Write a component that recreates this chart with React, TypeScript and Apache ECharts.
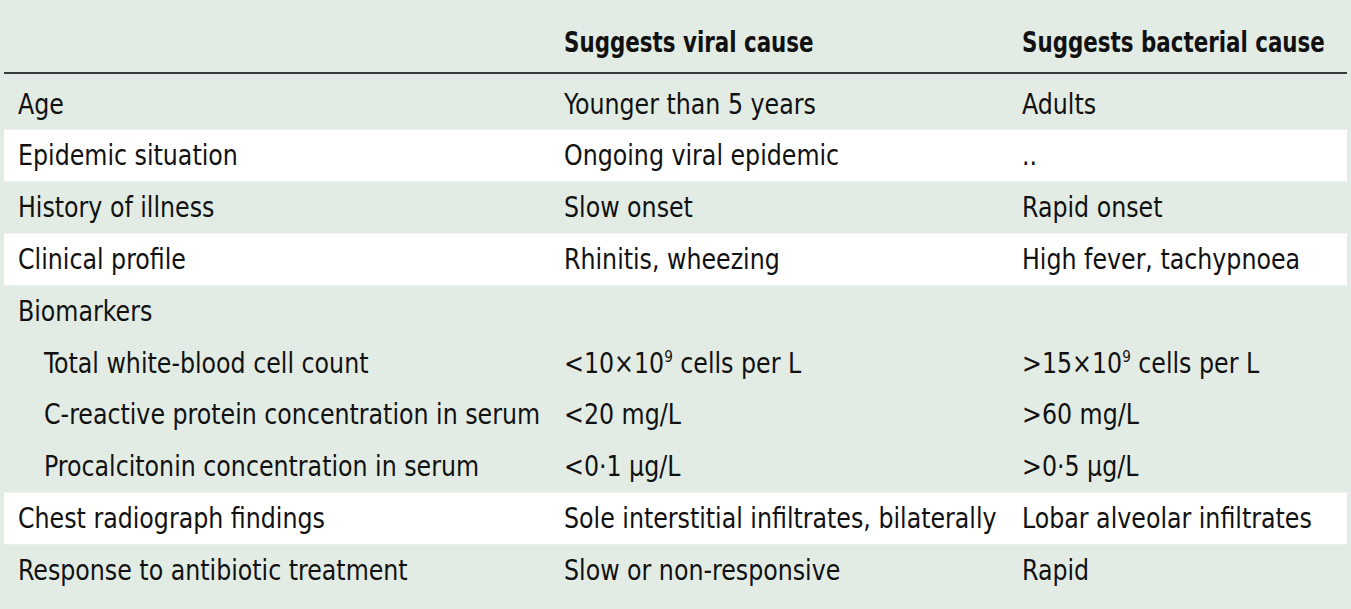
import React, { useEffect, useRef } from "react";
import * as echarts from "echarts";

const headers = ["", "Suggests viral cause", "Suggests bacterial cause"];
const rowLabels = [
  "Age",
  "Epidemic situation",
  "History of illness",
  "Clinical profile",
  "Biomarkers",
  "Total white-blood cell count",
  "C-reactive protein concentration in serum",
  "Procalcitonin concentration in serum",
  "Chest radiograph findings",
  "Response to antibiotic treatment",
];
const rowIndented = [false, false, false, false, false, true, true, true, false, false];
const rowShaded = [false, true, false, true, false, false, false, false, true, false];
const viralValues = [
  "Younger than 5 years",
  "Ongoing viral epidemic",
  "Slow onset",
  "Rhinitis, wheezing",
  "",
  "<10×10{sup|9} cells per L",
  "<20 mg/L",
  "<0·1 μg/L",
  "Sole interstitial infiltrates, bilaterally",
  "Slow or non-responsive",
];
const bacterialValues = [
  "Adults",
  "..",
  "Rapid onset",
  "High fever, tachypnoea",
  "",
  ">15×10{sup|9} cells per L",
  ">60 mg/L",
  ">0·5 μg/L",
  "Lobar alveolar infiltrates",
  "Rapid",
];

const W = 1351;
const H = 609;
const BG = "#e2ece4";
const TEXT = "#111111";
const FONT = "'DejaVu Sans Condensed', 'DejaVu Sans', sans-serif";
const FS = 28;
const BODY_SCALE = 0.942;
const HEAD_SCALE = 0.85;
const colX = [18, 564, 1022];
const indentX = 44;
const headerY = 42;
const lineY = 73;
const rowTop = 78;
const rowH = 51.8;

export default function App() {
  const ref = useRef<HTMLDivElement>(null);
  useEffect(() => {
    document.body.style.margin = "0";
    const chart = echarts.init(ref.current!, null, { renderer: "svg" });
    const elements: any[] = [];
    elements.push({ type: "rect", shape: { x: 0, y: 0, width: W, height: H }, style: { fill: BG }, silent: true });
    rowLabels.forEach((_, i) => {
      if (rowShaded[i]) {
        elements.push({
          type: "rect",
          shape: { x: 4, y: rowTop + i * rowH, width: W - 8, height: rowH },
          style: { fill: "#ffffff" },
        });
      }
    });
    elements.push({
      type: "line",
      shape: { x1: 4, y1: lineY, x2: W - 4, y2: lineY },
      style: { stroke: "#000", lineWidth: 1.5 },
    });
    const rich = {
      sup: { fontSize: 16, verticalAlign: "top", fill: TEXT, fontFamily: FONT, padding: [0, 0, 12, 0] },
    };
    headers.forEach((h, c) => {
      if (!h) return;
      elements.push({
        type: "text",
        x: colX[c],
        y: headerY,
        scaleX: HEAD_SCALE,
        style: { text: h, fontFamily: FONT, fontSize: FS, fontWeight: "bold", fill: TEXT, verticalAlign: "middle" },
      });
    });
    rowLabels.forEach((label, i) => {
      const cy = rowTop + i * rowH + rowH / 2;
      const cols = [label, viralValues[i], bacterialValues[i]];
      cols.forEach((t, c) => {
        if (!t) return;
        const x = c === 0 && rowIndented[i] ? indentX : colX[c];
        elements.push({
          type: "text",
          x,
          y: cy,
          scaleX: BODY_SCALE,
          style: { text: t, fontFamily: FONT, fontSize: FS, fill: TEXT, verticalAlign: "middle", rich },
        });
      });
    });
    chart.setOption({ animation: false, graphic: { elements } });
    return () => chart.dispose();
  }, []);
  return <div ref={ref} style={{ width: W, height: H }} />;
}
